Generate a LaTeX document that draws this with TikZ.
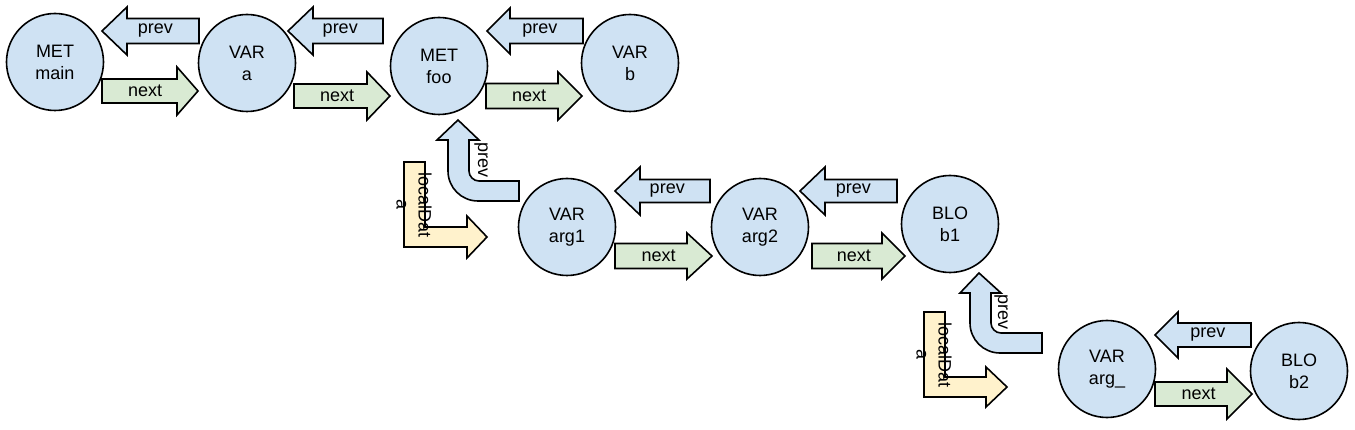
\documentclass[tikz,border=0pt]{standalone}
\usepackage{fontspec}
\setmainfont{Liberation Sans}
\definecolor{cblue}{HTML}{CFE2F3}
\definecolor{cgreen}{HTML}{D9EAD3}
\definecolor{cyellow}{HTML}{FFF2CC}
\newcommand{\BlkArr}[9]{%
  \draw[#1] (#2,#5-#6) -- (#3,#5-#6) -- (#3,#5-#7) -- (#4,#5) -- (#3,#5+#7) -- (#3,#5+#6) -- (#2,#5+#6) -- cycle;
  \node[lbl] (#9) at ({0.55*#2+0.45*#4},#5) {#8};
}
\tikzset{
  every node/.style={font=\fontsize{18}{22}\selectfont},
  circ/.style={circle,draw=black,line width=1.6pt,fill=cblue,minimum size=97pt,inner sep=0pt,align=center},
  nextarr/.style={draw=black,line width=1.6pt,fill=cgreen,line join=miter},
  prevarr/.style={draw=black,line width=1.6pt,fill=cblue,line join=miter},
  localarr/.style={draw=black,line width=1.6pt,fill=cyellow,line join=miter},
  lbl/.style={inner sep=0pt},
}
\begin{document}
\begin{tikzpicture}[x=1pt,y=-1pt]
\useasboundingbox (0,0) rectangle (1355,430);
% circles
\node[circ] (main) at (55,62) {MET\\main};
\node[circ] (a) at (247,63) {VAR\\a};
\node[circ] (foo) at (439,66) {MET\\foo};
\node[circ] (b) at (630,63) {VAR\\b};
\node[circ] (arg1) at (567,227) {VAR\\arg1};
\node[circ] (arg2) at (760,227) {VAR\\arg2};
\node[circ] (b1) at (950,224) {BLO\\b1};
\node[circ] (argu) at (1107,369) {VAR\\arg\_};
\node[circ] (b2) at (1299,371) {BLO\\b2};
% next arrows
\BlkArr{nextarr}{102}{177}{198}{91}{12}{24}{next}{n1}
\BlkArr{nextarr}{294}{367}{390}{96}{12}{24}{next}{n2}
\BlkArr{nextarr}{486}{558}{582}{96}{12.5}{24}{next}{n3}
\BlkArr{nextarr}{615}{687}{712}{256}{12.5}{23}{next}{n4}
\BlkArr{nextarr}{812}{882}{905}{256}{12.5}{23}{next}{n5}
\BlkArr{nextarr}{1155}{1227}{1252}{394}{12}{25}{next}{n6}
% prev arrows
\BlkArr{prevarr}{199}{127}{102}{31}{12.5}{24}{prev}{p1}
\BlkArr{prevarr}{383}{313}{288}{31}{12.5}{24}{prev}{p2}
\BlkArr{prevarr}{583}{510}{487}{31}{12.5}{23}{prev}{p3}
\BlkArr{prevarr}{710}{640}{615}{191}{11.5}{24}{prev}{p4}
\BlkArr{prevarr}{897}{825}{800}{191}{11.5}{24}{prev}{p5}
\BlkArr{prevarr}{1251}{1178}{1155}{335}{12}{23}{prev}{p6}
% bent prev arrows
\draw[prevarr] (469,140) -- (479,140) -- (458,120) -- (437,140) -- (448,140) -- (448,171)
  .. controls (448,187.6) and (461.4,201) .. (478,201) -- (519,201) -- (519,181) -- (479,181)
  .. controls (473.5,181) and (469,176.5) .. (469,171) -- cycle;
\node[lbl,rotate=-90] (bp1) at (481,160) {prev};
\draw[prevarr] (991,293) -- (1001,293) -- (979,273) -- (960,293) -- (970,293) -- (970,323)
  .. controls (970,339.6) and (983.4,353) .. (1000,353) -- (1042,353) -- (1042,333) -- (1001,333)
  .. controls (995.5,333) and (991,328.5) .. (991,323) -- cycle;
\node[lbl,rotate=-90] (bp2) at (1001,312) {prev};
% localData arrows
\draw[localarr] (404,162) -- (425,162) -- (425,227) -- (467,227) -- (467,216) -- (487,237)
  -- (467,258) -- (467,247) -- (404,247) -- cycle;
\node[lbl,rotate=-90,align=center] (ld1) at (414,205) {localDat\\a};
\draw[localarr] (924,312) -- (945,312) -- (945,377) -- (986,377) -- (986,367) -- (1007,387)
  -- (986,407) -- (986,397) -- (924,397) -- cycle;
\node[lbl,rotate=-90,align=center] (ld2) at (934,355) {localDat\\a};
\end{tikzpicture}
\end{document}
